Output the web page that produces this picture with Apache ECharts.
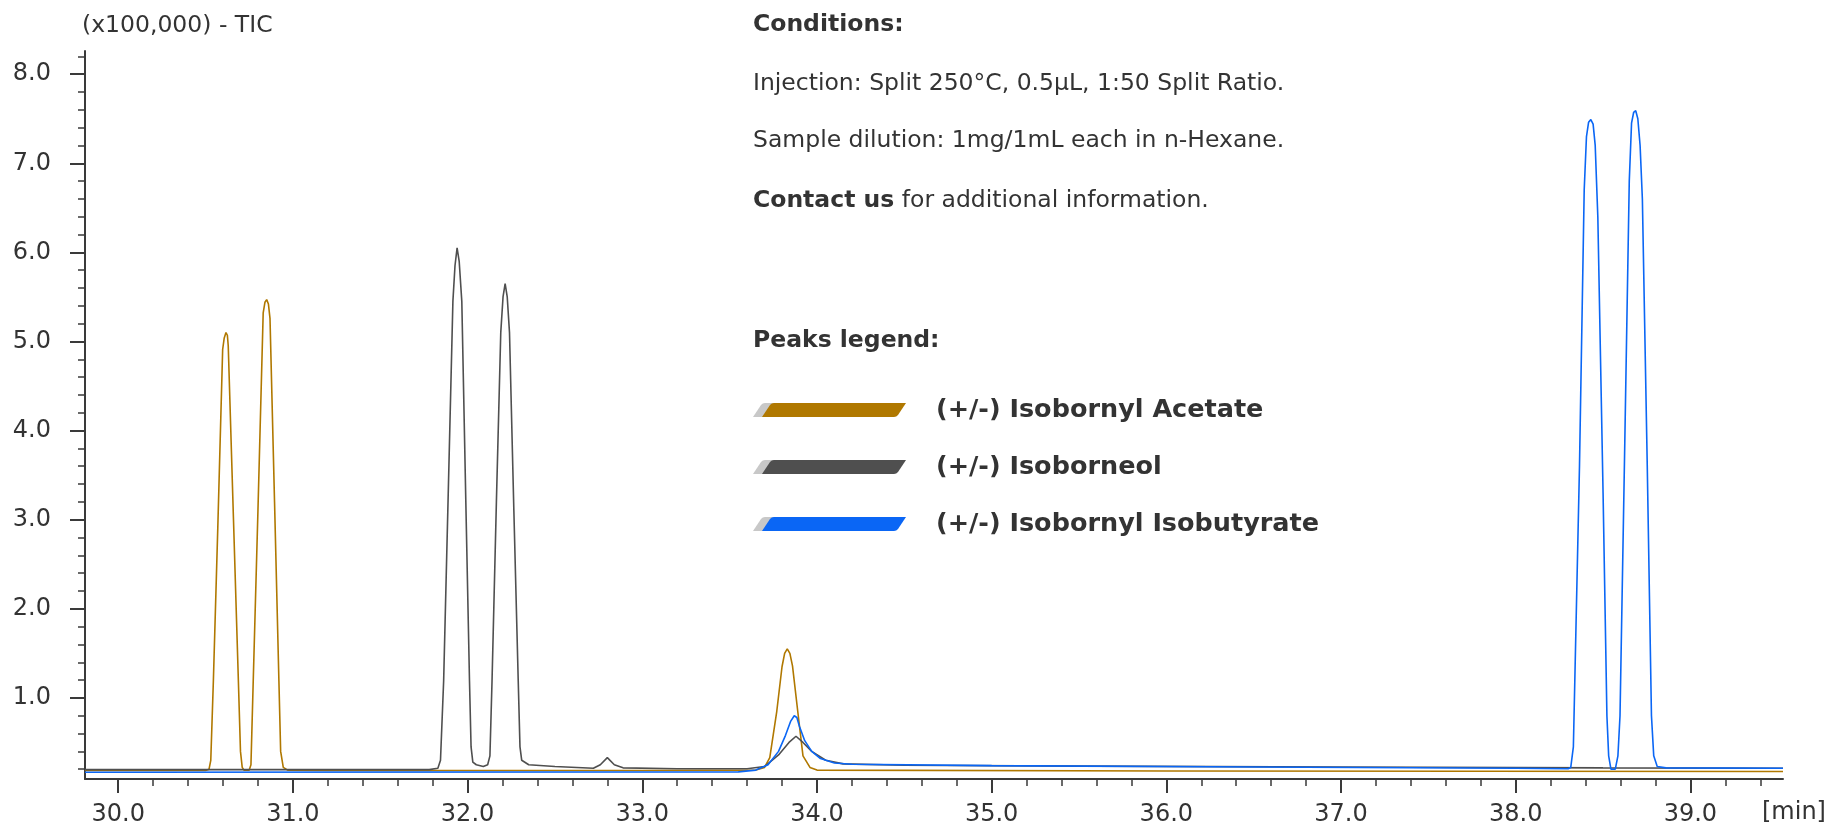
<!DOCTYPE html>
<html><head><meta charset="utf-8">
<script src="https://cdn.jsdelivr.net/npm/echarts@6/dist/echarts.min.js"></script>
<style>html,body{margin:0;padding:0;background:#fff;}#c{width:1827px;height:827px;}</style>
</head><body><div id="c"></div>
<script>
// ---- data ----
const seriesNames = ['(+/-) Isobornyl Acetate', '(+/-) Isoborneol', '(+/-) Isobornyl Isobutyrate'];
const seriesColors = ['#B07800', '#4F4F4F', '#0A66F5'];

const acetate = [[29.81,0.185],[30.50,0.185],[30.52,0.2],[30.53,0.3],[30.545,1.2],[30.57,2.9],[30.598,4.91],[30.607,5.04],[30.617,5.10],[30.625,5.07],[30.63,4.95],[30.66,3.0],[30.688,1.19],[30.70,0.4],[30.71,0.22],[30.72,0.19],[30.75,0.19],[30.76,0.25],[30.773,1.19],[30.80,3.1],[30.83,5.32],[30.84,5.44],[30.85,5.47],[30.86,5.42],[30.869,5.26],[30.895,3.2],[30.92,1.19],[30.93,0.4],[30.945,0.22],[30.97,0.19],[31.2,0.185],[33.0,0.185],[33.65,0.19],[33.70,0.22],[33.73,0.33],[33.77,0.85],[33.80,1.35],[33.815,1.5],[33.83,1.55],[33.845,1.5],[33.86,1.36],[33.89,0.85],[33.92,0.35],[33.96,0.22],[34.0,0.19],[36.0,0.18],[39.53,0.175]];

const isoborneol = [[29.81,0.195],[31.78,0.195],[31.83,0.21],[31.845,0.3],[31.863,1.19],[31.89,3.35],[31.916,5.45],[31.928,5.85],[31.94,6.05],[31.952,5.9],[31.967,5.45],[31.99,3.2],[32.011,1.19],[32.02,0.45],[32.03,0.28],[32.05,0.25],[32.09,0.23],[32.115,0.25],[32.128,0.35],[32.14,1.19],[32.165,3.2],[32.19,5.1],[32.203,5.5],[32.215,5.65],[32.227,5.5],[32.24,5.1],[32.265,3.1],[32.29,1.19],[32.30,0.45],[32.31,0.3],[32.35,0.25],[32.50,0.23],[32.72,0.21],[32.76,0.25],[32.80,0.33],[32.84,0.25],[32.89,0.215],[33.2,0.205],[33.6,0.205],[33.70,0.23],[33.78,0.36],[33.84,0.5],[33.88,0.57],[33.92,0.5],[33.97,0.4],[34.05,0.3],[34.15,0.26],[34.5,0.245],[35.5,0.235],[37.0,0.225],[38.5,0.215],[39.53,0.21]];

const isobutyrate = [[29.81,0.165],[33.55,0.17],[33.65,0.19],[33.72,0.25],[33.78,0.4],[33.82,0.58],[33.85,0.74],[33.87,0.80],[33.885,0.78],[33.90,0.68],[33.93,0.52],[33.97,0.40],[34.02,0.32],[34.1,0.27],[34.2,0.255],[35.0,0.24],[36.5,0.225],[38.0,0.21],[38.30,0.205],[38.315,0.22],[38.33,0.45],[38.365,3.6],[38.392,6.7],[38.405,7.3],[38.417,7.46],[38.43,7.49],[38.443,7.44],[38.455,7.2],[38.47,6.4],[38.50,3.3],[38.522,0.8],[38.532,0.35],[38.545,0.2],[38.57,0.2],[38.585,0.35],[38.597,0.8],[38.622,3.6],[38.65,6.8],[38.663,7.45],[38.675,7.57],[38.687,7.59],[38.699,7.5],[38.712,7.2],[38.725,6.6],[38.753,3.6],[38.777,0.8],[38.79,0.35],[38.81,0.23],[38.86,0.215],[39.53,0.21]];

const xMajorTicks = [30,31,32,33,34,35,36,37,38,39];
const xMinorTicks = [30.2,30.4,30.6,30.8,31.2,31.4,31.6,31.8,32.2,32.4,32.6,32.8,33.2,33.4,33.6,33.8,34.2,34.4,34.6,34.8,35.2,35.4,35.6,35.8,36.2,36.4,36.6,36.8,37.2,37.4,37.6,37.8,38.2,38.4,38.6,38.8,39.2,39.4];
const yMajorTicks = [1,2,3,4,5,6,7,8];
const yMinorTicks = [0.2,0.4,0.6,0.8,1.2,1.4,1.6,1.8,2.2,2.4,2.6,2.8,3.2,3.4,3.6,3.8,4.2,4.4,4.6,4.8,5.2,5.4,5.6,5.8,6.2,6.4,6.6,6.8,7.2,7.4,7.6,7.8,8.2];
const xRange = [29.81, 39.53];
const yRange = [0.09, 8.26];

const yTitle = '(x100,000) - TIC';
const xUnit = '[min]';
const conditionLines = ['Conditions:', 'Injection: Split 250°C, 0.5µL, 1:50 Split Ratio.', 'Sample dilution: 1mg/1mL each in n-Hexane.'];
const contactBold = 'Contact us';
const contactRest = ' for additional information.';
const legendTitle = 'Peaks legend:';

// ---- chart ----
const FONT = 'DejaVu Sans';
const TXT = '#333333';
const AX = '#3a3a3a';
const chart = echarts.init(document.getElementById('c'), null, {renderer: 'canvas'});

const axisCommon = {type: 'value', splitLine: {show: false}};
const option = {
  animation: false,
  backgroundColor: '#ffffff',
  color: seriesColors,
  grid: {left: 85, right: 44, top: 51, bottom: 48, containLabel: false},
  xAxis: [
    Object.assign({}, axisCommon, {
      min: xRange[0], max: xRange[1], position: 'bottom',
      axisLine: {show: true, onZero: false, lineStyle: {color: AX, width: 2}},
      axisTick: {show: true, customValues: xMajorTicks, length: 14, lineStyle: {color: AX, width: 2}},
      axisLabel: {show: true, customValues: xMajorTicks, formatter: v => v.toFixed(1), margin: 23.5,
        fontFamily: FONT, fontSize: 24, color: TXT}
    }),
    Object.assign({}, axisCommon, {
      min: xRange[0], max: xRange[1], position: 'bottom',
      axisLine: {show: false, onZero: false},
      axisTick: {show: true, customValues: xMinorTicks, length: 7, lineStyle: {color: AX, width: 1.5}},
      axisLabel: {show: false}
    })
  ],
  yAxis: [
    Object.assign({}, axisCommon, {
      min: yRange[0], max: yRange[1], position: 'left',
      axisLine: {show: true, onZero: false, lineStyle: {color: AX, width: 2}},
      axisTick: {show: true, customValues: yMajorTicks, length: 15, lineStyle: {color: AX, width: 2}},
      axisLabel: {show: true, customValues: yMajorTicks, formatter: v => v.toFixed(1), margin: 34,
        fontFamily: FONT, fontSize: 24, color: TXT}
    }),
    Object.assign({}, axisCommon, {
      min: yRange[0], max: yRange[1], position: 'left',
      axisLine: {show: false, onZero: false},
      axisTick: {show: true, customValues: yMinorTicks, length: 7, lineStyle: {color: AX, width: 1.5}},
      axisLabel: {show: false}
    })
  ],
  legend: {
    orient: 'vertical', left: 757, top: 390,
    itemWidth: 144, itemHeight: 14, itemGap: 27,
    icon: 'path://M0,14 L8,2 Q9.5,0 12,0 L144,0 L136,12 Q134.5,14 132,14 Z',
    itemStyle: {borderWidth: 0, shadowColor: '#c8c8c8', shadowOffsetX: -9, shadowOffsetY: 0, shadowBlur: 0},
    textStyle: {fontFamily: FONT, fontSize: 25.5, fontWeight: 'bold', color: TXT, padding: [0, 0, 0, 25], lineHeight: 30},
    selectedMode: false,
    data: seriesNames
  },
  series: [acetate, isoborneol, isobutyrate].map((d, i) => ({
    name: seriesNames[i], type: 'line', data: d, xAxisIndex: 0, yAxisIndex: 0,
    showSymbol: false, symbol: 'none', smooth: false,
    itemStyle: {color: seriesColors[i]},
    lineStyle: {color: seriesColors[i], width: 1.6},
    z: 2 + i
  })),
  graphic: [
    {type: 'text', x: 82, y: 26, style: {text: yTitle, fontFamily: FONT, fontSize: 23.5, fill: TXT, verticalAlign: 'middle'}},
    {type: 'text', x: 1762, y: 813, style: {text: xUnit, fontFamily: FONT, fontSize: 24, fill: TXT, verticalAlign: 'middle'}},
    {type: 'text', x: 753, y: 24.5, style: {text: conditionLines[0], fontFamily: FONT, fontSize: 23.5, fontWeight: 'bold', fill: TXT, verticalAlign: 'middle'}},
    {type: 'text', x: 753, y: 84, style: {text: conditionLines[1], fontFamily: FONT, fontSize: 23.5, fill: TXT, verticalAlign: 'middle'}},
    {type: 'text', x: 753, y: 141, style: {text: conditionLines[2], fontFamily: FONT, fontSize: 23.5, fill: TXT, verticalAlign: 'middle'}},
    {type: 'text', x: 753, y: 200.5, style: {
      text: '{b|' + contactBold + '}{r|' + contactRest + '}', verticalAlign: 'middle', fill: TXT,
      rich: {b: {fontFamily: FONT, fontSize: 23.5, fontWeight: 'bold', fill: TXT}, r: {fontFamily: FONT, fontSize: 23.5, fill: TXT}}}},
    {type: 'text', x: 753, y: 340.5, style: {text: legendTitle, fontFamily: FONT, fontSize: 23.5, fontWeight: 'bold', fill: TXT, verticalAlign: 'middle'}}
  ]
};
chart.setOption(option);
</script></body></html>
